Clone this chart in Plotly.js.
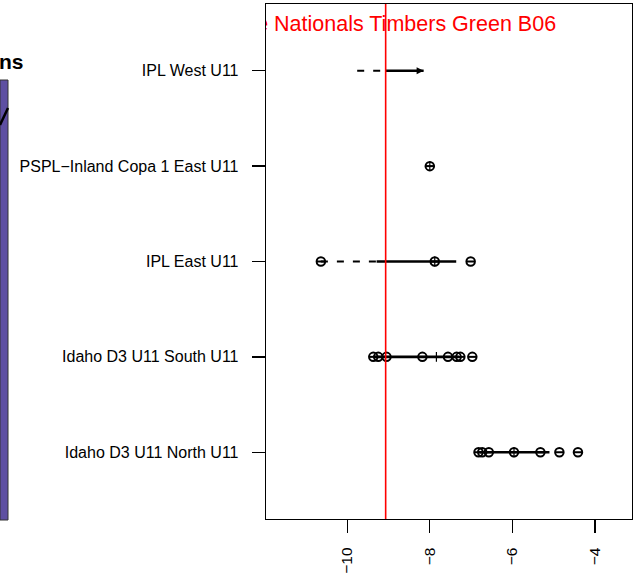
<!DOCTYPE html>
<html>
<head>
<meta charset="utf-8">
<script src="https://cdn.plot.ly/plotly-3.0.1.min.js"></script>
<style>html,body{margin:0;padding:0;background:#fff;}#chart{width:634px;height:574px;}</style>
</head>
<body>
<div id="chart"></div>
<script>
// Categories, bottom to top
var categories = ["Idaho D3 U11 North U11", "Idaho D3 U11 South U11", "IPL East U11", "PSPL\u2212Inland Copa 1 East U11", "IPL West U11"];
// Individual game values per category
var pointsNorth = [-6.82, -6.73, -6.57, -5.96, -5.32, -4.86, -4.41];
var pointsSouth = [-9.37, -9.25, -9.05, -8.18, -7.56, -7.35, -7.26, -6.97];
var pointsEast = [-10.64, -7.88, -7.01];
var pointsPSPL = [-8.0];
var pointsWest = [];
// Dashed whisker (low, high) per category, null = none
var dashLow = [null, null, -10.64, null, -9.76];
var dashHigh = [null, null, -9.29, null, -9.07];
// Solid segment (low, high) per category
var solidLow = [-6.80, -9.37, -9.29, null, -9.07];
var solidHigh = [-5.10, -7.30, -7.36, null, -8.15];
// Centre marks (+) per category
var centreMark = [-5.96, -7.84, -7.88, -8.0, null];
// Reference line and title
var refLine = -9.07;
var titleText = "e Nationals Timbers Green B06";
var titleAnchor = [-4.94, 5.47];
var xTicks = [-10, -8, -6, -4];
var leftTitle = "ns";

var FONT = "Liberation Sans, Arial, Helvetica, sans-serif";
var yPos = categories.map(function (c, i) { return i + 1; });

function segs(lo, hi) {
  var x = [], y = [];
  for (var i = 0; i < categories.length; i++) {
    if (lo[i] === null) continue;
    x.push(lo[i], hi[i], null);
    y.push(yPos[i], yPos[i], null);
  }
  return {x: x, y: y};
}
var allPts = [pointsNorth, pointsSouth, pointsEast, pointsPSPL, pointsWest];
var px = [], py = [];
allPts.forEach(function (arr, i) { arr.forEach(function (v) { px.push(v); py.push(yPos[i]); }); });
var cx = [], cy = [];
centreMark.forEach(function (v, i) { if (v !== null) { cx.push(v); cy.push(yPos[i]); } });

var d = segs(dashLow, dashHigh), s = segs(solidLow, solidHigh);
var arrowX = [], arrowY = [];
// arrow at the end of the solid segment for the category without points
allPts.forEach(function (arr, i) { if (arr.length === 0 && solidHigh[i] !== null) { arrowX.push(solidHigh[i]); arrowY.push(yPos[i]); } });

var traces = [
  {x: d.x, y: d.y, mode: "lines", line: {color: "#000", width: 2, dash: "7px,9px"}, hoverinfo: "skip"},
  {x: s.x, y: s.y, mode: "lines", line: {color: "#000", width: 2.6}, hoverinfo: "skip"},
  {x: arrowX, y: arrowY, mode: "markers", marker: {symbol: "arrow-right", size: 7, color: "#000", line: {width: 0}}, hoverinfo: "skip"},
  {x: px, y: py, mode: "markers", marker: {symbol: "circle-open", size: 8.5, color: "#000", line: {width: 2, color: "#000"}}, hoverinfo: "skip"},
  {x: px, y: py, mode: "markers", marker: {symbol: "line-ew-open", size: 6, color: "#000", line: {width: 2, color: "#000"}}, hoverinfo: "skip"},
  {x: cx, y: cy, mode: "markers", marker: {symbol: "cross-thin-open", size: 7, color: "#000", line: {width: 1.2, color: "#000"}}, hoverinfo: "skip"},
  {x: [titleAnchor[0]], y: [titleAnchor[1]], mode: "text", text: [titleText], textposition: "middle left",
   textfont: {family: FONT, size: 21.5, color: "#ff0000"}, hoverinfo: "skip", cliponaxis: true}
];

var layout = {
  width: 634, height: 574,
  margin: {l: 266, r: 2, t: 4, b: 55, pad: 0},
  paper_bgcolor: "#fff", plot_bgcolor: "#fff",
  showlegend: false,
  font: {family: FONT, size: 16, color: "#000"},
  xaxis: {
    range: [-11.97, -3.1], showgrid: false, zeroline: false,
    showline: true, mirror: true, linecolor: "#000", linewidth: 1.3,
    tickmode: "array", tickvals: xTicks, ticks: "outside", ticklen: 13, tickwidth: 1.3, tickcolor: "#000",
    tickangle: -90, tickfont: {family: FONT, size: 15.5, color: "#000"}, ticklabelstandoff: 8
  },
  yaxis: {
    range: [0.3, 5.7], showgrid: false, zeroline: false,
    showline: true, mirror: true, linecolor: "#000", linewidth: 1.3,
    tickmode: "array", tickvals: yPos, ticktext: categories,
    ticks: "outside", ticklen: 13, tickwidth: 1.3, tickcolor: "#000",
    tickfont: {family: FONT, size: 16, color: "#000"}, ticklabelstandoff: 10
  },
  shapes: [
    {type: "line", xref: "x", yref: "paper", x0: refLine, x1: refLine, y0: 0, y1: 1, line: {color: "#ff0000", width: 1.6}, layer: "above"},
    // clipped neighbouring panel on the left
    {type: "rect", xref: "paper", yref: "paper", x0: -266 / 366, x1: -258 / 366, y0: -1 / 515, y1: (519 - 80) / 515, fillcolor: "#5E4FA2", line: {color: "#333", width: 1}, layer: "above"},
    {type: "line", xref: "paper", yref: "paper", x0: -266 / 366, x1: -258 / 366, y0: (519 - 125) / 515, y1: (519 - 108) / 515, line: {color: "#000", width: 2.5}, layer: "above"}
  ],
  annotations: [
    {xref: "paper", yref: "paper", x: -240 / 366, y: (519 - 61) / 515, xanchor: "right", yanchor: "middle", text: "<b>" + leftTitle + "</b>", showarrow: false,
     font: {family: FONT, size: 21, color: "#000"}}
  ]
};

Plotly.newPlot("chart", traces, layout, {displayModeBar: false, staticPlot: true});
</script>
</body>
</html>
